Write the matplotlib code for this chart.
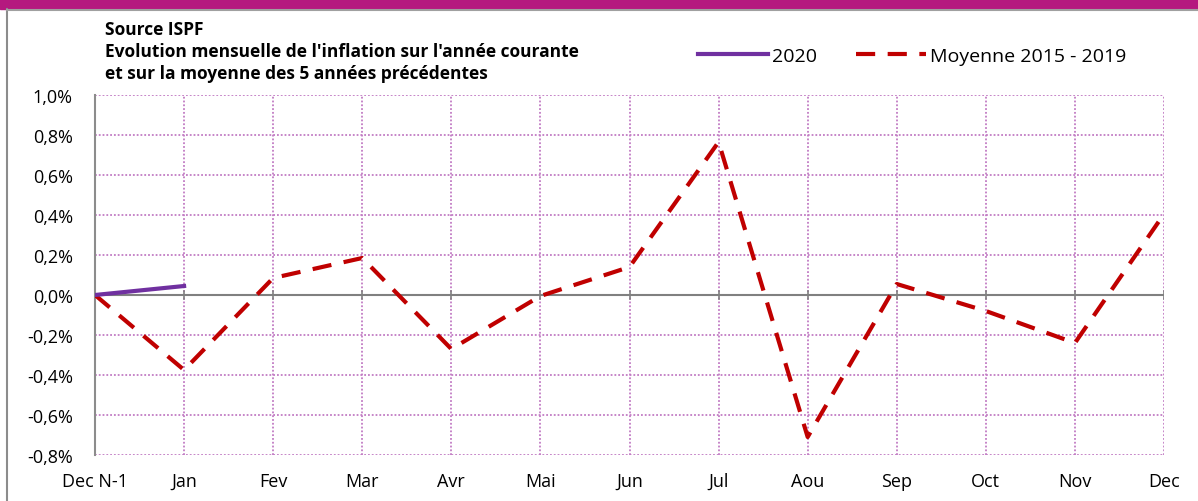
import matplotlib.pyplot as plt
from matplotlib.patches import Rectangle
from matplotlib.lines import Line2D

months = ["Dec N-1", "Jan", "Fev", "Mar", "Avr", "Mai", "Jun", "Jul",
          "Aou", "Sep", "Oct", "Nov", "Dec"]
serie_2020 = [0.0, 0.045]
moyenne_2015_2019 = [0.0, -0.375, 0.085, 0.185, -0.27, -0.005, 0.14, 0.765,
                     -0.71, 0.055, -0.08, -0.24, 0.405]
yticks = [-0.8, -0.6, -0.4, -0.2, 0.0, 0.2, 0.4, 0.6, 0.8, 1.0]

plt.rcParams['font.family'] = ['Open Sans', 'DejaVu Sans']

W, H = 1198, 502
fig = plt.figure(figsize=(W / 100, H / 100), dpi=100)

# magenta band on top + grey frame
fig.patches.append(Rectangle((0, 1 - 9.5 / H), 1, 9.5 / H, transform=fig.transFigure,
                             color='#B5197F', zorder=0))
fig.add_artist(Line2D([7 / W, 7 / W], [0, 1 - 10 / H], transform=fig.transFigure,
                      color='#8c8c8c', lw=1.5))
fig.add_artist(Line2D([7 / W, 1], [1 - 10.5 / H, 1 - 10.5 / H], transform=fig.transFigure,
                      color='#a0a0a0', lw=1.5))

ax = fig.add_axes([95 / W, 1 - 456 / H, (1164 - 95) / W, (456 - 96) / H])
x = list(range(len(months)))

ax.plot(x, moyenne_2015_2019, color='#C00000', lw=3, dashes=(4.6, 3.0),
        label='Moyenne 2015 - 2019', zorder=3)
ax.plot(x[:len(serie_2020)], serie_2020, color='#7030A0', lw=3, label='2020', zorder=4)

ax.set_xlim(0, 12)
ax.set_ylim(-0.8, 1.0)
ax.set_yticks(yticks)
ax.set_yticklabels([f"{v:.1f}%".replace('.', ',') for v in yticks], fontsize=13)
ax.set_xticks(x)
ax.set_xticklabels(months, fontsize=13)
ax.tick_params(axis='y', length=0, pad=16)
ax.tick_params(axis='x', length=0, pad=12)

ax.grid(True, color='#C27CC4', linestyle=(0, (1, 1.1)), lw=1.3)
for s in ['top', 'right', 'bottom']:
    ax.spines[s].set_visible(False)
ax.spines['left'].set_color('#8c8c8c')
ax.spines['left'].set_linewidth(1.5)
ax.axhline(0, color='#808080', lw=1.5, zorder=2)
for xi in x:
    ax.plot([xi, xi], [-0.02, 0.02], color='#808080', lw=1.2, zorder=2)

fig.text(105 / W, 1 - 52 / H, "Source ISPF\nEvolution mensuelle de l'inflation sur l'année courante\n"
         "et sur la moyenne des 5 années précédentes",
         fontsize=12.5, fontweight='bold', va='center', ha='left', linespacing=1.3)

h, l = ax.get_legend_handles_labels()
fig.legend([h[1], h[0]], [l[1], l[0]], loc='center', bbox_to_anchor=(912 / W, 1 - 57 / H),
           ncol=2, frameon=False, fontsize=14, handlelength=3.6, handletextpad=0.2,
           columnspacing=2.0)

fig.savefig('out.png', dpi=100)
